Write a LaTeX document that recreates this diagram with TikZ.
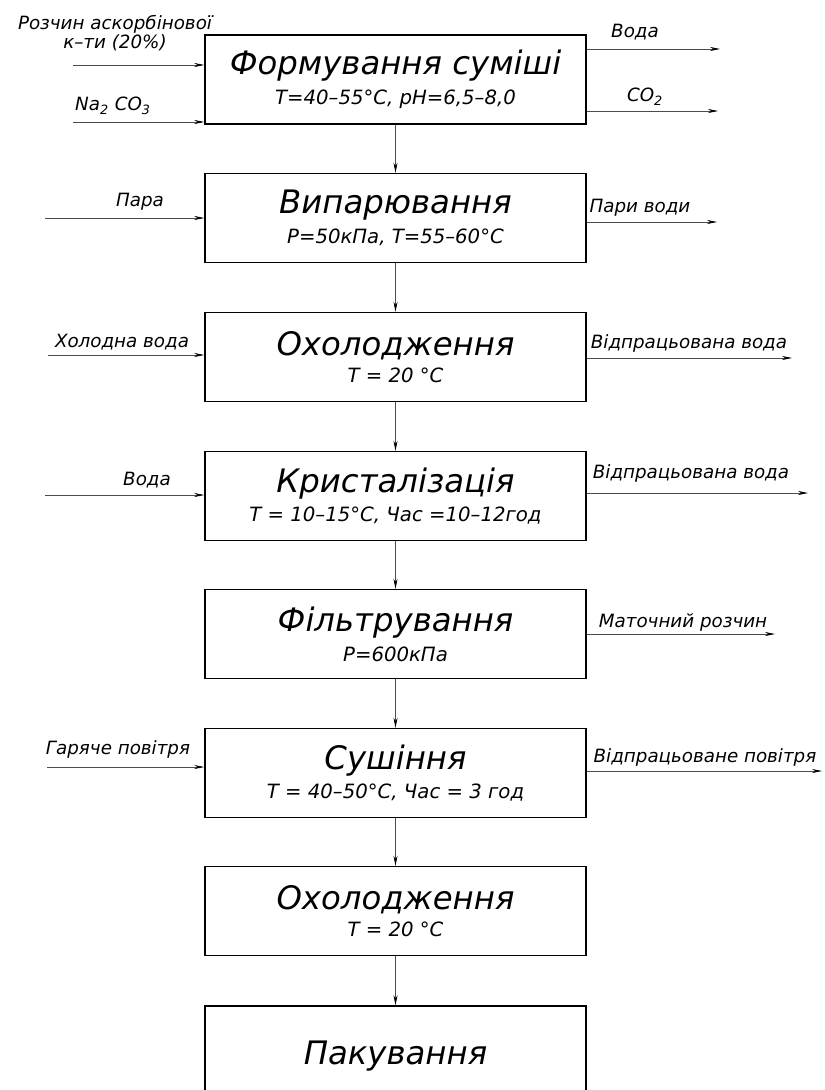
\documentclass[tikz,border=0pt]{standalone}
\usepackage{fontspec}
\setmainfont{DejaVu Sans}
\usetikzlibrary{arrows.meta}
\newcommand{\procname}[1]{{\fontsize{23}{26}\selectfont #1}}
\newcommand{\proccond}[1]{{\fontsize{14}{16}\selectfont #1}}

\begin{document}
\begin{tikzpicture}[x=0.025cm,y=-0.025cm,
stage/.style={draw=black, line width=1pt, minimum width=9.525cm, minimum height=2.225cm, align=center, inner sep=0pt, font=\itshape},
flow/.style={draw=black!70, line width=0.5pt, -{Stealth[length=2.5mm,width=1mm,black]}},
side/.style={font=\fontsize{13}{13}\selectfont\itshape, inner sep=0pt, align=center}]
%\draw[help lines] (0,0) grid (824,1090);
\useasboundingbox (0,0) rectangle (824,1090);
\clip (0,0) rectangle (824,1090);

% stages
\node[stage] (mix) at (395.5,79.5) {\procname{Формування суміші}\\[5pt]\proccond{T=40–55°C, pH=6,5–8,0}};
\node[stage] (evap) at (395.5,218) {\procname{Випарювання}\\[5pt]\proccond{P=50кПа, T=55–60°C}};
\node[stage] (cool) at (395.5,357) {\procname{Охолодження}\\[5pt]\proccond{T = 20 °C}};
\node[stage] (cryst) at (395.5,496) {\procname{Кристалізація}\\[5pt]\proccond{T = 10–15°C, Час =10–12год}};
\node[stage] (filt) at (395.5,634) {\procname{Фільтрування}\\[5pt]\proccond{P=600кПа}};
\node[stage] (dry) at (395.5,773) {\procname{Сушіння}\\[5pt]\proccond{T = 40–50°C, Час = 3 год}};
\node[stage] (cool2) at (395.5,911) {\procname{Охолодження}\\[5pt]\proccond{T = 20 °C}};
\node[stage, minimum height=2.5cm] (pack) at (395.5,1056) {\procname{Пакування}};

% main line
\draw[flow] (mix.south) -- (evap.north);
\draw[flow] (evap.south) -- (cool.north);
\draw[flow] (cool.south) -- (cryst.north);
\draw[flow] (cryst.south) -- (filt.north);
\draw[flow] (filt.south) -- (dry.north);
\draw[flow] (dry.south) -- (cool2.north);
\draw[flow] (cool2.south) -- (pack.north);

% inputs and outputs
\coordinate (in-acid) at (73,65);
\coordinate (in-soda) at (73,122);
\coordinate (out-water) at (720,49);
\coordinate (out-co2) at (718,111);
\draw[flow] (in-acid) -- (in-acid -| mix.west);
\draw[flow] (in-soda) -- (in-soda -| mix.west);
\draw[flow] (mix.east |- out-water) -- (out-water);
\draw[flow] (mix.east |- out-co2) -- (out-co2);
\node[side] (l-acid) at (115,33) {Розчин аскорбінової\\к–ти (20\%)};
\node[side] (l-soda) at (113,106) {Na\textsubscript{2} CO\textsubscript{3}};
\node[side] (l-water) at (635,32) {Вода};
\node[side] (l-co2) at (645,97) {CO\textsubscript{2}};

\coordinate (in-steam) at (45,218);
\coordinate (out-vapour) at (717,222);
\draw[flow] (in-steam) -- (in-steam -| evap.west);
\draw[flow] (evap.east |- out-vapour) -- (out-vapour);
\node[side] (l-steam) at (140,202) {Пара};
\node[side] (l-vapour) at (640,208) {Пари води};

\coordinate (in-cold) at (48,355);
\coordinate (out-waste) at (792,358);
\draw[flow] (in-cold) -- (in-cold -| cool.west);
\draw[flow] (cool.east |- out-waste) -- (out-waste);
\node[side] (l-cold) at (122,342) {Холодна вода};
\node[side] (l-waste) at (689,343) {Відпрацьована вода};

\coordinate (in-water) at (45,495);
\coordinate (out-waste2) at (808,493);
\draw[flow] (in-water) -- (in-water -| cryst.west);
\draw[flow] (cryst.east |- out-waste2) -- (out-waste2);
\node[side] (l-water2) at (147,480) {Вода};
\node[side] (l-waste2) at (691,473) {Відпрацьована вода};

\coordinate (out-mother) at (775,634);
\draw[flow] (filt.east |- out-mother) -- (out-mother);
\node[side] (l-mother) at (683,622) {Маточний розчин};

\coordinate (in-hot) at (47,767);
\coordinate (out-air) at (822,771);
\draw[flow] (in-hot) -- (in-hot -| dry.west);
\draw[flow] (dry.east |- out-air) -- (out-air);
\node[side] (l-hot) at (118,749) {Гаряче повітря};
\node[side] (l-air) at (705,757) {Відпрацьоване повітря};
\end{tikzpicture}
\end{document}
